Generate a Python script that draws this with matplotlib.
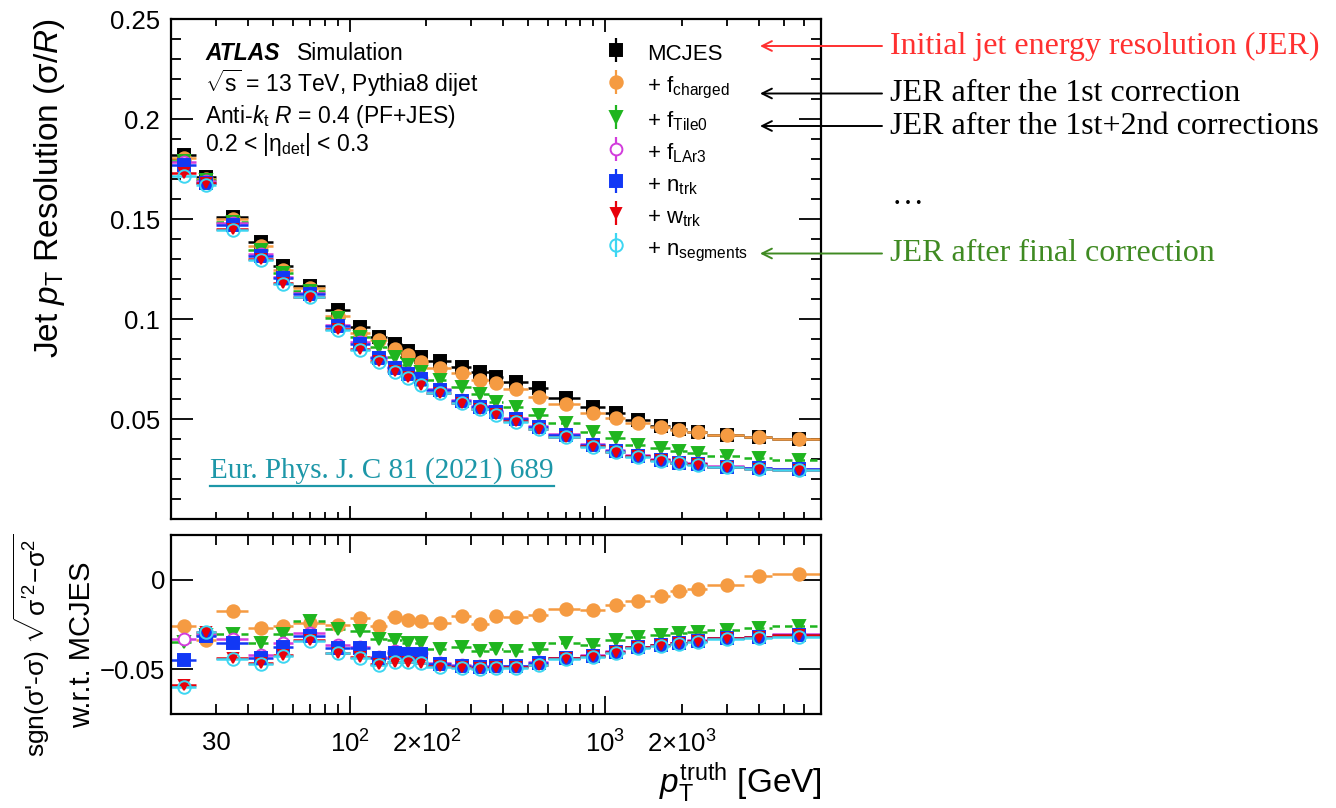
import matplotlib

matplotlib.use("Agg")
import matplotlib.pyplot as plt
import matplotlib.ticker as ticker
import numpy as np
from matplotlib.legend_handler import HandlerTuple
from matplotlib.lines import Line2D
from matplotlib.patches import FancyArrowPatch

plt.rcParams["font.family"] = ["Liberation Sans", "DejaVu Sans"]
plt.rcParams["mathtext.fontset"] = "custom"
plt.rcParams["mathtext.rm"] = "Liberation Sans"
plt.rcParams["mathtext.it"] = "Liberation Sans:italic"
plt.rcParams["mathtext.bf"] = "Liberation Sans:bold"

# ---------------------------------------------------------------------------
# Data: jet pT resolution after each sequential GSC step, 0.2 < |eta| < 0.3
# ---------------------------------------------------------------------------

pt_edges = np.array([20, 25, 30, 40, 50, 60, 80, 100, 120, 140, 160, 180, 200, 250,
                     300, 350, 400, 500, 600, 800, 1000, 1200, 1500, 1800, 2100,
                     2500, 3500, 4500, 7000], dtype=float)

res_mcjes = [0.1820, 0.1710, 0.1510, 0.1388, 0.1267, 0.1168, 0.1045, 0.0960, 0.0913,
             0.0875, 0.0841, 0.0810, 0.0793, 0.0763, 0.0738, 0.0713, 0.0688, 0.0655,
             0.0605, 0.0563, 0.0530, 0.0497, 0.0467, 0.0450, 0.0438, 0.0422, 0.0410,
             0.0400]
res_fcharged = [0.1805, 0.1700, 0.1500, 0.1367, 0.1247, 0.1155, 0.1015, 0.0933, 0.0895,
                0.0850, 0.0822, 0.0785, 0.0755, 0.0730, 0.0697, 0.0680, 0.0650, 0.0613,
                0.0577, 0.0530, 0.0505, 0.0483, 0.0460, 0.0447, 0.0435, 0.0422, 0.0410,
                0.0400]
res_ftile0 = [0.1793, 0.1695, 0.1487, 0.1347, 0.1230, 0.1143, 0.1008, 0.0913, 0.0860,
              0.0813, 0.0772, 0.0738, 0.0697, 0.0660, 0.0627, 0.0588, 0.0560, 0.0522,
              0.0480, 0.0438, 0.0405, 0.0372, 0.0355, 0.0343, 0.0330, 0.0317, 0.0305,
              0.0297]
res_flar3 = [0.1785, 0.1690, 0.1480, 0.1325, 0.1210, 0.1130, 0.0972, 0.0885, 0.0812,
             0.0760, 0.0732, 0.0705, 0.0650, 0.0598, 0.0568, 0.0542, 0.0505, 0.0467,
             0.0425, 0.0375, 0.0345, 0.0322, 0.0300, 0.0287, 0.0280, 0.0268, 0.0258,
             0.0253]
res_ntrk = [0.1772, 0.1680, 0.1473, 0.1317, 0.1205, 0.1127, 0.0967, 0.0878, 0.0805,
            0.0755, 0.0727, 0.0700, 0.0647, 0.0593, 0.0563, 0.0538, 0.0500, 0.0463,
            0.0422, 0.0372, 0.0342, 0.0317, 0.0297, 0.0283, 0.0277, 0.0263, 0.0255,
            0.0250]
res_wtrk = [0.1730, 0.1683, 0.1450, 0.1300, 0.1183, 0.1113, 0.0950, 0.0850, 0.0790,
            0.0740, 0.0710, 0.0672, 0.0632, 0.0583, 0.0552, 0.0524, 0.0490, 0.0452,
            0.0412, 0.0365, 0.0338, 0.0315, 0.0295, 0.0282, 0.0275, 0.0262, 0.0253,
            0.0248]
res_nseg = [0.1717, 0.1672, 0.1445, 0.1297, 0.1177, 0.1110, 0.0948, 0.0848, 0.0786,
            0.0738, 0.0708, 0.0670, 0.0630, 0.0582, 0.0550, 0.0522, 0.0487, 0.0450,
            0.0410, 0.0362, 0.0335, 0.0312, 0.0292, 0.0280, 0.0272, 0.0260, 0.0250,
            0.0245]

# sgn(s'-s) sqrt(|s'^2 - s^2|) with respect to MCJES
diff_fcharged = [-0.0258, -0.0336, -0.0177, -0.0270, -0.0258, -0.0243, -0.0250, -0.0215,
                 -0.0261, -0.0209, -0.0224, -0.0233, -0.0243, -0.0205, -0.0248, -0.0202,
                 -0.0209, -0.0196, -0.0164, -0.0168, -0.0140, -0.0116, -0.0093, -0.0065,
                 -0.0052, -0.0028, 0.0022, 0.0034]
diff_ftile0 = [-0.0345, -0.0310, -0.0302, -0.0354, -0.0302, -0.0233, -0.0276, -0.0284,
               -0.0332, -0.0336, -0.0354, -0.0354, -0.0388, -0.0377, -0.0396, -0.0388,
               -0.0396, -0.0388, -0.0354, -0.0364, -0.0336, -0.0321, -0.0308, -0.0295,
               -0.0290, -0.0280, -0.0271, -0.0261]
diff_flar3 = [-0.0332, -0.0305, -0.0332, -0.0420, -0.0354, -0.0299, -0.0367, -0.0378,
              -0.0430, -0.0400, -0.0408, -0.0408, -0.0465, -0.0476, -0.0484, -0.0480,
              -0.0480, -0.0462, -0.0435, -0.0422, -0.0400, -0.0374, -0.0362, -0.0352,
              -0.0338, -0.0325, -0.0318, -0.0305]
diff_ntrk = [-0.0448, -0.0317, -0.0354, -0.0438, -0.0377, -0.0314, -0.0383, -0.0383,
             -0.0438, -0.0407, -0.0414, -0.0414, -0.0470, -0.0481, -0.0489, -0.0484,
             -0.0484, -0.0466, -0.0438, -0.0426, -0.0403, -0.0377, -0.0364, -0.0355,
             -0.0340, -0.0327, -0.0321, -0.0308]
diff_wtrk = [-0.0588, -0.0290, -0.0438, -0.0463, -0.0420, -0.0336, -0.0407, -0.0430,
             -0.0470, -0.0457, -0.0457, -0.0463, -0.0481, -0.0489, -0.0495, -0.0489,
             -0.0489, -0.0475, -0.0438, -0.0426, -0.0401, -0.0377, -0.0364, -0.0355,
             -0.0340, -0.0327, -0.0321, -0.0310]
diff_nseg = [-0.0597, -0.0290, -0.0440, -0.0470, -0.0425, -0.0340, -0.0412, -0.0436,
             -0.0474, -0.0460, -0.0460, -0.0466, -0.0485, -0.0492, -0.0497, -0.0492,
             -0.0492, -0.0478, -0.0442, -0.0430, -0.0408, -0.0382, -0.0368, -0.0360,
             -0.0345, -0.0332, -0.0327, -0.0318]

labels = ["MCJES", r"+ f$_{\mathrm{charged}}$", r"+ f$_{\mathrm{Tile0}}$",
          r"+ f$_{\mathrm{LAr3}}$", r"+ n$_{\mathrm{trk}}$", r"+ w$_{\mathrm{trk}}$",
          r"+ n$_{\mathrm{segments}}$"]

res_top = [res_mcjes, res_fcharged, res_ftile0, res_flar3, res_ntrk, res_wtrk, res_nseg]
diff_bottom = [None, diff_fcharged, diff_ftile0, diff_flar3, diff_ntrk, diff_wtrk, diff_nseg]

res_ticks = [0.05, 0.10, 0.15, 0.20, 0.25]
res_ticklabels = ["0.05", "0.1", "0.15", "0.2", "0.25"]
diff_ticks = [-0.05, 0.0]
diff_ticklabels = ["\u22120.05", "0"]
pt_major = [100, 1000]
pt_minor = [30, 40, 50, 60, 70, 80, 90, 200, 300, 400, 500, 600, 700, 800, 900,
            2000, 3000, 4000, 5000, 6000]
pt_labelled = {30: "30", 100: r"$10^{2}$", 200: r"$2{\times}10^{2}$",
               1000: r"$10^{3}$", 2000: r"$2{\times}10^{3}$"}

# marker / colour style per series
styles = [
    dict(color="black", marker="s", ms=8, mfc="black", ls="-"),
    dict(color="#F59B42", marker="o", ms=9, mfc="#F59B42", ls="-"),
    dict(color="#1FB51F", marker="v", ms=9, mfc="#1FB51F", ls="--"),
    dict(color="#D23CDC", marker="o", ms=8.5, mfc="white", ls="-"),
    dict(color="#1238F5", marker="s", ms=8, mfc="#1238F5", ls="-"),
    dict(color="#E8000B", marker="v", ms=7.5, mfc="#E8000B", ls="-"),
    dict(color="#3DD6F2", marker="o", ms=9, mfc="none", ls="-"),
]

pt_lo = pt_edges[:-1]
pt_hi = pt_edges[1:]
pt_mid = 0.5 * (pt_lo + pt_hi)
xerr = [pt_mid - pt_lo, pt_hi - pt_mid]

TICK_FS = 18.5

# ---------------------------------------------------------------------------
# Figure
# ---------------------------------------------------------------------------

W, H = 1336, 808
fig = plt.figure(figsize=(W / 100, H / 100), dpi=100)


def fx(px):
    return px / W


def fy(py):
    return 1 - py / H


ax_top = fig.add_axes([fx(171), fy(519.3), fx(821) - fx(171), fy(19.3) - fy(519.3)])
ax_bot = fig.add_axes([fx(171), fy(714), fx(821) - fx(171), fy(535) - fy(714)])


def draw_series(ax, y, st):
    eb = ax.errorbar(pt_mid, y, xerr=xerr, fmt=st["marker"], color=st["color"],
                     mfc=st["mfc"], mec=st["color"], ms=st["ms"], mew=1.4,
                     elinewidth=1.8, capsize=0)
    if st["ls"] == "--":
        for col in eb[2]:
            col.set_linestyle((0, (3, 2)))
    return eb


for y, st in zip(res_top, styles):
    draw_series(ax_top, y, st)

for y, st in zip(diff_bottom, styles):
    if y is not None:
        draw_series(ax_bot, y, st)

for ax in (ax_top, ax_bot):
    ax.set_xscale("log")
    ax.set_xlim(20, 7000)
    ax.xaxis.set_major_locator(ticker.FixedLocator(pt_major))
    ax.xaxis.set_minor_locator(ticker.FixedLocator(pt_minor))
    ax.tick_params(which="both", direction="in", top=True, right=True, width=1.3,
                   labelsize=TICK_FS)
    for sp in ax.spines.values():
        sp.set_linewidth(1.6)

# top panel axes
ax_top.set_ylim(0.0, 0.25)
ax_top.yaxis.set_major_locator(ticker.FixedLocator(res_ticks))
ax_top.yaxis.set_major_formatter(ticker.FixedFormatter(res_ticklabels))
ax_top.yaxis.set_minor_locator(ticker.MultipleLocator(0.01))
ax_top.tick_params(axis="y", which="major", length=16, pad=8)
ax_top.tick_params(axis="y", which="minor", length=7)
ax_top.tick_params(axis="x", which="major", length=9.5)
ax_top.tick_params(axis="x", which="minor", length=5)
ax_top.xaxis.set_major_formatter(ticker.NullFormatter())
ax_top.xaxis.set_minor_formatter(ticker.NullFormatter())

# bottom panel axes
ax_bot.set_ylim(-0.075, 0.025)
ax_bot.yaxis.set_major_locator(ticker.FixedLocator(diff_ticks))
ax_bot.yaxis.set_major_formatter(ticker.FixedFormatter(diff_ticklabels))
ax_bot.yaxis.set_minor_locator(ticker.NullLocator())
ax_bot.tick_params(axis="y", which="major", length=16, pad=4)
ax_bot.tick_params(axis="x", which="major", length=13, pad=12)
ax_bot.tick_params(axis="x", which="minor", length=7, pad=12, labelsize=TICK_FS)


def pt_fmt(v, pos):
    return pt_labelled.get(int(round(v)), "")


ax_bot.xaxis.set_major_formatter(ticker.FuncFormatter(pt_fmt))
ax_bot.xaxis.set_minor_formatter(ticker.FuncFormatter(pt_fmt))

# axis titles
fig.text(fx(50), fy(18), r"Jet $p_{\mathrm{T}}$ Resolution (σ/$R$)", rotation=90,
         ha="center", va="top", fontsize=24)
fig.text(fx(822), fy(805), r"$p_{\mathrm{T}}^{\mathrm{truth}}$ [GeV]", ha="right",
         va="bottom", fontsize=24)
fig.text(fx(32), fy(645), r"sgn(σ'-σ) $\sqrt{\mathrm{σ}'^{2}\!-\!\mathrm{σ}^{2}}$",
         rotation=90, ha="center", va="center", fontsize=19)
fig.text(fx(82), fy(645), "w.r.t. MCJES", rotation=90, ha="center", va="center",
         fontsize=21)

# ATLAS label block
fig.text(fx(205), fy(60), "ATLAS", fontsize=16.5, fontweight="bold", style="italic",
         va="baseline")
fig.text(fx(297), fy(60), "Simulation", fontsize=16.5, va="baseline")
fig.text(fx(205), fy(91.7), r"$\sqrt{\mathrm{s}}$ = 13 TeV, Pythia8 dijet",
         fontsize=16.5, va="baseline")
fig.text(fx(205), fy(123.3), r"Anti-$k_{\mathrm{t}}$ $R$ = 0.4 (PF+JES)",
         fontsize=16.5, va="baseline")
fig.text(fx(205), fy(150.7), r"0.2 < |$\mathrm{η}_{\mathrm{det}}$| < 0.3",
         fontsize=16.5, va="baseline")

# legend with ROOT-style vertical error marks through the markers
handles = []
for st in styles:
    bar = Line2D([], [], color=st["color"], marker="|", ms=17, mew=1.6, ls="none")
    mk = Line2D([], [], color=st["color"], marker=st["marker"], ms=st["ms"],
                mfc=st["mfc"], mec=st["color"], mew=1.4, ls="none")
    handles.append((bar, mk))
leg = ax_top.legend(handles, labels, handler_map={tuple: HandlerTuple(ndivide=1)},
                    loc="upper left", bbox_to_anchor=(0.64, 0.99), frameon=False,
                    fontsize=16, handlelength=1.2, handletextpad=0.8,
                    handleheight=1.4, labelspacing=0.28, borderpad=0.2)

# annotations beside the plot
serif = ["Liberation Serif", "DejaVu Serif"]
notes = [
    ("Initial jet energy resolution (JER)", "#FF3030", 46),
    ("JER after the 1st correction", "black", 93.5),
    ("JER after the 1st+2nd corrections", "black", 126),
    ("JER after final correction", "#3F8A22", 253.5),
]
for txt, col, ypx in notes:
    fig.text(fx(890), fy(ypx), txt, color=col, fontsize=23, family=serif,
             ha="left", va="center")
    fig.add_artist(FancyArrowPatch(
        (fx(882), fy(ypx)), (fx(760), fy(ypx)), transform=fig.transFigure,
        arrowstyle="->,head_length=7,head_width=3.5", color=col, lw=1.4,
        shrinkA=0, shrinkB=0))
fig.text(fx(892), fy(196), "\u2026", fontsize=23, family=serif, ha="left",
         va="center")

# journal reference with underline
ref = fig.text(fx(210), fy(478), "Eur. Phys. J. C 81 (2021) 689", color="#1D97A8",
               fontsize=21, family=serif, ha="left", va="baseline")
fig.canvas.draw()
bb = ref.get_window_extent().transformed(fig.transFigure.inverted())
fig.add_artist(Line2D([bb.x0, bb.x1], [bb.y0 - 0.002, bb.y0 - 0.002],
                      transform=fig.transFigure, color="#1D97A8", lw=1.6))

fig.savefig("out.png", dpi=100)
